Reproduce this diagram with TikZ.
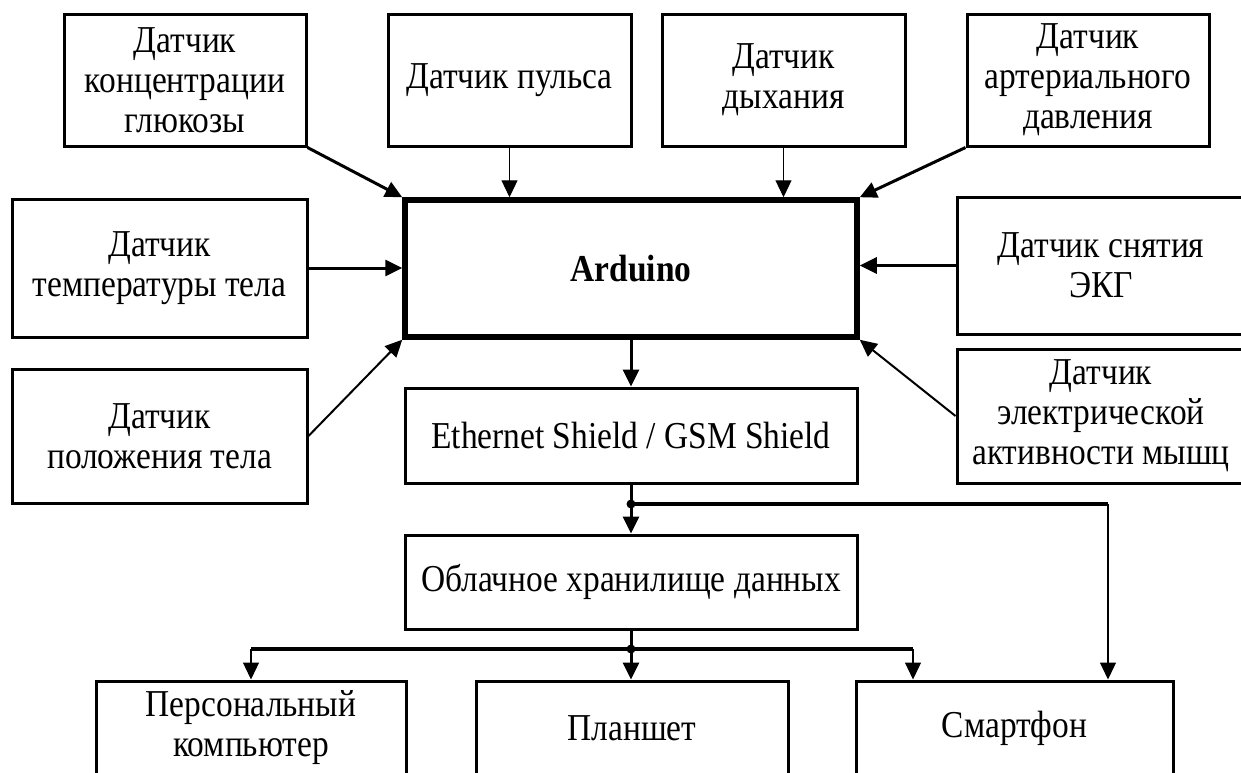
\documentclass[tikz,border=0pt]{standalone}
\usepackage{fontspec}
\setmainfont[FakeStretch=0.88]{Liberation Serif}
\usetikzlibrary{arrows.meta}
\tikzset{
  box/.style={draw, line width=3pt, align=center, inner sep=0pt,
    font=\fontsize{38}{40}\selectfont},
  heavy arrow/.style={line width=3pt, -{Triangle[length=17pt,width=16pt]}},
  mid arrow/.style={line width=2pt, -{Triangle[length=17pt,width=16pt]}},
  light arrow/.style={line width=1.2pt, -{Triangle[length=17pt,width=16pt]}},
  bus/.style={line width=3.5pt}
}
\begin{document}
\begin{tikzpicture}[x=1pt, y=-1pt]
\useasboundingbox (0,0) rectangle (1241,772);

\node[box, minimum width=242pt, minimum height=132pt] (glu) at (185,80) {Датчик\\концентрации\\глюкозы};
\node[box, minimum width=243pt, minimum height=132pt] (pulse) at (509.5,80) {Датчик пульса};
\node[box, minimum width=243pt, minimum height=132pt] (breath) at (783.5,80) {Датчик\\дыхания};
\node[box, minimum width=242pt, minimum height=132pt] (press) at (1088,80) {Датчик\\артериального\\давления};

\node[box, minimum width=295pt, minimum height=138pt] (temp) at (159.5,268) {Датчик\\температуры тела};
\node[box, minimum width=295pt, minimum height=134pt] (pos) at (159.5,436) {Датчик\\положения тела};
\node[box, line width=5.5pt, minimum width=452pt, minimum height=137pt, font=\fontsize{38}{40}\selectfont\bfseries] (ard) at (631,268.5) {Arduino};
\node[box, minimum width=288pt, minimum height=137pt] (ecg) at (1101,265.5) {Датчик снятия\\ЭКГ};
\node[box, minimum width=288pt, minimum height=134pt] (musc) at (1101,416) {Датчик\\электрической\\активности мышц};

\node[box, minimum width=452pt, minimum height=95pt] (eth) at (631,435.5) {Ethernet Shield / GSM Shield};
\node[box, minimum width=452pt, minimum height=94pt] (cloud) at (631,582) {Облачное хранилище данных};

\node[box, minimum width=310pt, minimum height=94pt] (pc) at (251,728) {Персональный\\компьютер};
\node[box, minimum width=312pt, minimum height=94pt] (tab) at (632,728) {Планшет};
\node[box, minimum width=317pt, minimum height=94pt] (phone) at (1014.5,728) {Смартфон};

\coordinate (j1) at (631,504);
\coordinate (j1r) at (1108,504);
\coordinate (j2) at (631,649);
\coordinate (b1) at (251,649);
\coordinate (b2) at (913,649);

\draw[heavy arrow] (glu.south east) -- (ard.north west);
\draw[light arrow] (pulse.south) -- (pulse.south |- ard.north);
\draw[light arrow] (breath.south) -- (breath.south |- ard.north);
\draw[heavy arrow] (press.south west) -- (ard.north east);
\draw[heavy arrow] (temp.east) -- (temp.east -| ard.west);
\draw[mid arrow] (pos.east) -- (ard.south west);
\draw[heavy arrow] (ecg.west) -- (ecg.west -| ard.east);
\draw[mid arrow] (musc.west) -- (ard.south east);

\draw[heavy arrow] (ard.south) -- (eth.north);
\draw[heavy arrow] (eth.south) -- (cloud.north);
\draw[bus] (j1) -- (j1r);
\draw[light arrow] (j1r) -- (j1r |- phone.north);
\fill (j1) circle (4.5pt);

\draw[bus] (b1) -- (b2);
\draw[heavy arrow] (cloud.south) -- (cloud.south |- tab.north);
\draw[light arrow] (b1) -- (pc.north);
\draw[light arrow] (b2) -- (b2 |- phone.north);
\fill (j2) circle (4.5pt);
\end{tikzpicture}
\end{document}
